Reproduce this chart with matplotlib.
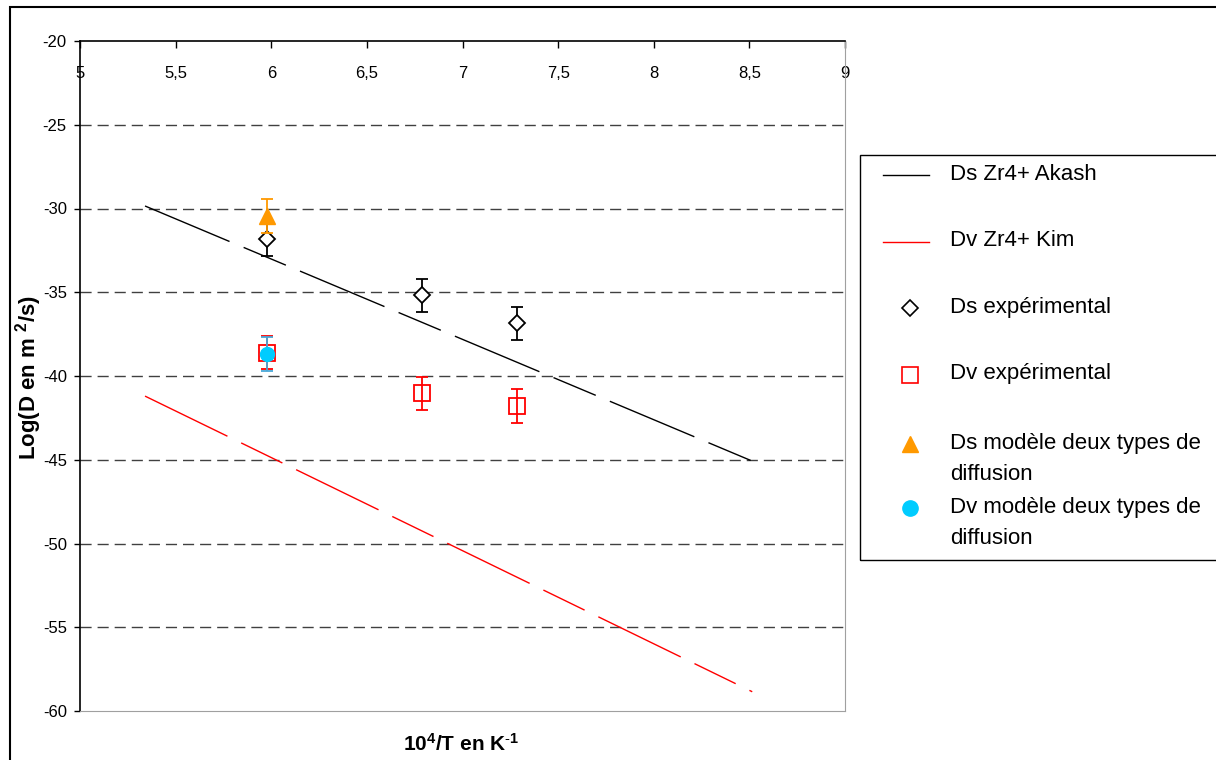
import matplotlib
matplotlib.use("Agg")
import matplotlib.pyplot as plt
from matplotlib import font_manager as fm
from matplotlib.lines import Line2D
from matplotlib.patches import Rectangle
from matplotlib.ticker import FuncFormatter, MultipleLocator

# ── Data ─────────────────────────────────────────────────────────────────────
x_exp = [5.977, 6.789, 7.283]          # 10^4/T for 1673, 1473, 1373 K
ds_exp = [-31.83, -35.19, -36.86]
dv_exp = [-38.61, -41.03, -41.79]
err_exp = [1.0, 1.0, 1.0]

x_model = [5.977]
ds_model = [-30.45]
dv_model = [-38.68]
err_model = [1.0]

x_line = [5.34, 8.515]
ds_akash = [-29.85, -45.08]
dv_kim = [-41.2, -58.85]

# ── Fonts / colours ──────────────────────────────────────────────────────────
names = {f.name for f in fm.fontManager.ttflist}
NARROW = "Liberation Sans Narrow" if "Liberation Sans Narrow" in names else "Liberation Sans"
plt.rcParams["font.family"] = ["Liberation Sans", "DejaVu Sans"]
plt.rcParams["mathtext.fontset"] = "custom"
plt.rcParams["mathtext.rm"] = "Liberation Sans"
plt.rcParams["mathtext.bf"] = "Liberation Sans:bold"
plt.rcParams["mathtext.it"] = "Liberation Sans:italic"

RED = "#ff0000"
ORANGE = "#ff9900"
CYAN = "#00ccff"
STEEL = "#4aa8d8"
W, H = 1216, 760


def px(x, y):
    return x / W, 1 - y / H


LONG_DASH = (0, (66, 11, 33, 11))

# ── Figure ───────────────────────────────────────────────────────────────────
fig = plt.figure(figsize=(12.16, 7.6), dpi=100)
ax = fig.add_axes([80 / W, 1 - 711 / H, 765 / W, 670 / H])

ax.set_xlim(5, 9)
ax.set_ylim(-60, -20)
ax.xaxis.set_major_locator(MultipleLocator(0.5))
ax.yaxis.set_major_locator(MultipleLocator(5))
ax.xaxis.set_major_formatter(FuncFormatter(lambda v, p: f"{v:g}".replace(".", ",")))
ax.yaxis.set_major_formatter(FuncFormatter(lambda v, p: f"{v:g}"))

ax.xaxis.set_ticks_position("top")
ax.tick_params(axis="x", direction="in", length=5, width=1, labeltop=True,
               labelbottom=False, pad=-29, labelsize=12)
ax.tick_params(axis="y", direction="out", length=4.5, width=1, pad=5, labelsize=12)
for lab in ax.get_xticklabels() + ax.get_yticklabels():
    lab.set_fontfamily(NARROW)

ax.spines["top"].set_linewidth(1.2)
ax.spines["left"].set_linewidth(1.2)
ax.spines["right"].set_color("#a0a0a0")
ax.spines["bottom"].set_color("#a0a0a0")

for yv in [-25, -30, -35, -40, -45, -50, -55]:
    ax.axhline(yv, color="#404040", lw=1.0, ls=(0, (8, 4.3)), zorder=1)

# model lines
ax.plot(x_line, ds_akash, color="black", lw=1.0, ls=LONG_DASH, zorder=2)
ax.plot(x_line, dv_kim, color=RED, lw=1.0, ls=LONG_DASH, zorder=2)

# experimental points
ax.errorbar(x_exp, ds_exp, yerr=err_exp, fmt="D", ms=8.5, mfc="white", mec="black",
            mew=1.3, ecolor="black", elinewidth=1.3, capsize=4, capthick=1.3, zorder=4)
ax.errorbar(x_exp, dv_exp, yerr=err_exp, fmt="s", ms=11, mfc="none", mec=RED,
            mew=1.3, ecolor=RED, elinewidth=1.3, capsize=4, capthick=1.3, zorder=3)
ax.errorbar(x_model, ds_model, yerr=err_model, fmt="^", ms=11, color=ORANGE,
            ecolor=ORANGE, elinewidth=1.3, capsize=4, capthick=1.3, zorder=5)
ax.errorbar(x_model, dv_model, yerr=err_model, fmt="o", ms=10, color=CYAN,
            ecolor=STEEL, elinewidth=1.3, capsize=4, capthick=1.3, zorder=5)

# axis titles
fig.text(*px(461, 744), r"$\mathbf{10^{4}/T\ en\ K^{\text{-}1}}$", fontsize=15,
         ha="center", va="center")
fig.text(*px(29, 378), r"$\mathbf{Log(D\ en\ m\ {}^{2}/s)}$", fontsize=16,
         ha="center", va="center", rotation=90)

# ── Outer frame & legend box ─────────────────────────────────────────────────
fig.patches.append(Rectangle(px(9.5, 800), 1300 / W, 793 / H, transform=fig.transFigure,
                             fill=False, ec="black", lw=1.5))
fig.patches.append(Rectangle(px(859.5, 560), 400 / W, 405 / H, transform=fig.transFigure,
                             fill=False, ec="black", lw=1.0))

leg_rows = [
    ("line", "black", None, 175, ["Ds Zr4+ Akash"]),
    ("line", RED, None, 242, ["Dv Zr4+ Kim"]),
    ("mark", "black", "D", 308, ["Ds expérimental"]),
    ("mark", RED, "s", 375, ["Dv expérimental"]),
    ("mark", ORANGE, "^", 444, ["Ds modèle deux types de", "diffusion"]),
    ("mark", CYAN, "o", 508, ["Dv modèle deux types de", "diffusion"]),
]
for kind, col, mk, yy, lines in leg_rows:
    if kind == "line":
        x0, y0 = px(883, yy)
        x1, _ = px(929, yy)
        fig.add_artist(Line2D([x0, x1], [y0, y0], color=col, lw=1.0,
                              transform=fig.transFigure))
    else:
        xm, ym = px(910, yy)
        if mk == "D":
            fig.add_artist(Line2D([xm], [ym], marker="D", ms=8, mfc="white", mec=col,
                                  mew=1.2, transform=fig.transFigure))
        elif mk == "s":
            fig.add_artist(Line2D([xm], [ym], marker="s", ms=11, mfc="none", mec=col,
                                  mew=1.2, transform=fig.transFigure))
        else:
            fig.add_artist(Line2D([xm], [ym], marker=mk, ms=11, color=col, mec=col,
                                  transform=fig.transFigure))
    for i, t in enumerate(lines):
        fig.text(*px(950, yy - 1 + i * 31), t, fontsize=16, ha="left", va="center")

fig.savefig("out.png", dpi=100)
